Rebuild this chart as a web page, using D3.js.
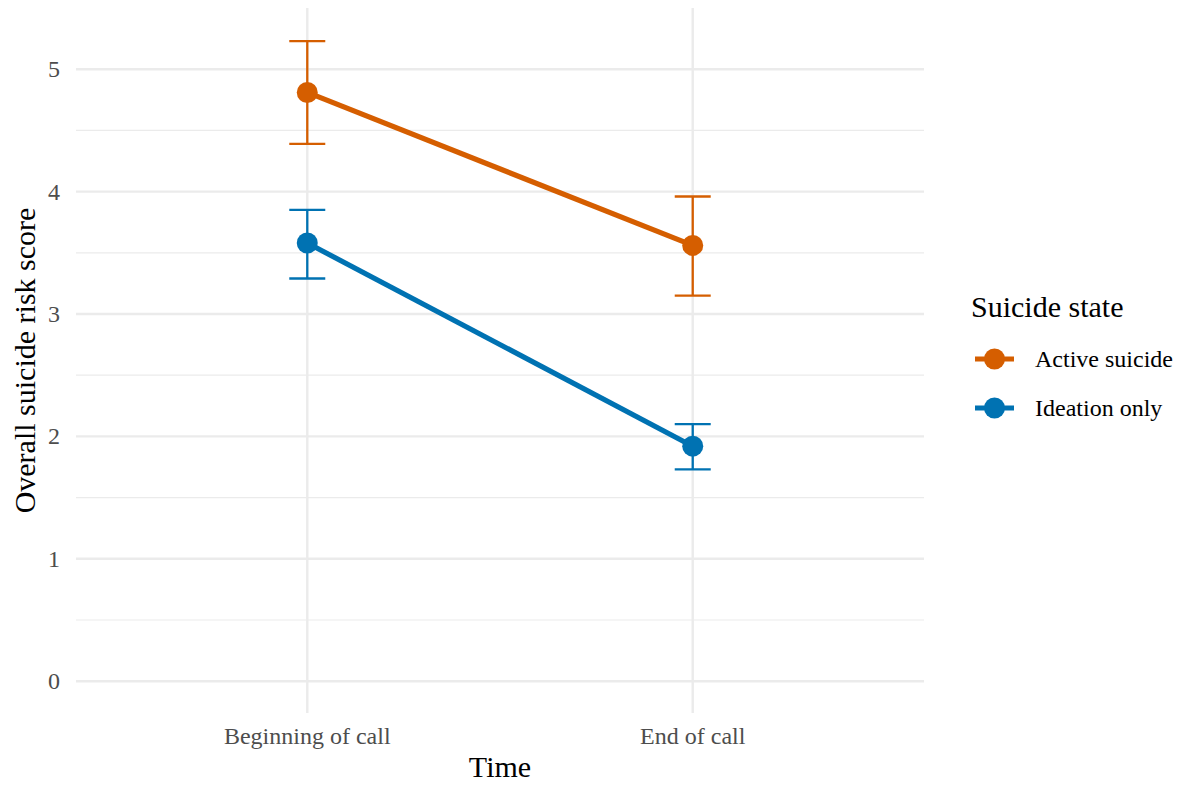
<!DOCTYPE html>
<html>
<head>
<meta charset="utf-8">
<script src="https://cdn.jsdelivr.net/npm/d3@7"></script>
<style>
  body { margin: 0; background: #fff; }
  text { font-family: "Liberation Serif", "Times New Roman", serif; }
</style>
</head>
<body>
<div id="chart"></div>
<script>
const times = ['Beginning of call', 'End of call']
const groups = ['Active suicide', 'Ideation only']
const colors = ['#D55E00', '#0072B2']

// mean, lower and upper for each group at each time
const activeMean = [4.81, 3.56]
const activeLow = [4.39, 3.15]
const activeHigh = [5.23, 3.96]
const ideationMean = [3.58, 1.92]
const ideationLow = [3.29, 1.73]
const ideationHigh = [3.85, 2.10]

const yTicks = [0, 1, 2, 3, 4, 5]
const yMinor = [0.5, 1.5, 2.5, 3.5, 4.5]

const series = [
  { name: groups[0], color: colors[0], mean: activeMean, low: activeLow, high: activeHigh },
  { name: groups[1], color: colors[1], mean: ideationMean, low: ideationLow, high: ideationHigh }
]

const width = 1186
const height = 787
const panel = { left: 76, right: 924, top: 8, bottom: 713 }

const svg = d3.select('#chart')
  .append('svg')
    .attr('width', width)
    .attr('height', height)

// discrete x with ggplot-like 0.6 expansion on each side
const x = d3.scalePoint()
  .domain(times)
  .range([panel.left + (panel.right - panel.left) * 0.6 / 2.2,
          panel.right - (panel.right - panel.left) * 0.6 / 2.2])

const y = d3.scaleLinear()
  .domain([-0.26, 5.5])
  .range([panel.bottom, panel.top])

const grid = svg.append('g')

grid.selectAll('.minor')
  .data(yMinor)
  .enter().append('line')
    .attr('x1', panel.left).attr('x2', panel.right)
    .attr('y1', d => y(d)).attr('y2', d => y(d))
    .attr('stroke', '#EBEBEB').attr('stroke-width', 1.2)

grid.selectAll('.major')
  .data(yTicks)
  .enter().append('line')
    .attr('x1', panel.left).attr('x2', panel.right)
    .attr('y1', d => y(d)).attr('y2', d => y(d))
    .attr('stroke', '#EBEBEB').attr('stroke-width', 2.4)

grid.selectAll('.vmajor')
  .data(times)
  .enter().append('line')
    .attr('x1', d => x(d)).attr('x2', d => x(d))
    .attr('y1', panel.top).attr('y2', panel.bottom)
    .attr('stroke', '#EBEBEB').attr('stroke-width', 2.4)

// y tick labels
svg.append('g').selectAll('text')
  .data(yTicks)
  .enter().append('text')
    .attr('x', 60)
    .attr('y', d => y(d))
    .attr('dy', '0.33em')
    .attr('text-anchor', 'end')
    .attr('font-size', 24)
    .attr('fill', '#4D4D4D')
    .text(d => d)

// x tick labels
svg.append('g').selectAll('text')
  .data(times)
  .enter().append('text')
    .attr('x', d => x(d))
    .attr('y', 744)
    .attr('text-anchor', 'middle')
    .attr('font-size', 24)
    .attr('fill', '#4D4D4D')
    .text(d => d)

// axis titles
svg.append('text')
  .attr('x', (panel.left + panel.right) / 2)
  .attr('y', 777)
  .attr('text-anchor', 'middle')
  .attr('font-size', 30)
  .text('Time')

svg.append('text')
  .attr('transform', 'translate(35,' + (panel.top + panel.bottom) / 2 + ') rotate(-90)')
  .attr('text-anchor', 'middle')
  .attr('font-size', 30)
  .text('Overall suicide risk score')

const line = d3.line()
  .x((d, i) => x(times[i]))
  .y(d => y(d))

const capHalf = 18

series.forEach(s => {
  const g = svg.append('g')

  // error bars
  times.forEach((t, i) => {
    g.append('line')
      .attr('x1', x(t)).attr('x2', x(t))
      .attr('y1', y(s.low[i])).attr('y2', y(s.high[i]))
      .attr('stroke', s.color).attr('stroke-width', 2.3)
    ;[s.low[i], s.high[i]].forEach(v => {
      g.append('line')
        .attr('x1', x(t) - capHalf).attr('x2', x(t) + capHalf)
        .attr('y1', y(v)).attr('y2', y(v))
        .attr('stroke', s.color).attr('stroke-width', 2.3)
    })
  })

  g.append('path')
    .datum(s.mean)
    .attr('d', line)
    .attr('fill', 'none')
    .attr('stroke', s.color)
    .attr('stroke-width', 5.2)

  g.selectAll('circle')
    .data(s.mean)
    .enter().append('circle')
      .attr('cx', (d, i) => x(times[i]))
      .attr('cy', d => y(d))
      .attr('r', 10.5)
      .attr('fill', s.color)
})

// legend
const legend = svg.append('g')

legend.append('text')
  .attr('x', 971)
  .attr('y', 317)
  .attr('font-size', 30)
  .text('Suicide state')

series.forEach((s, i) => {
  const cy = 359 + i * 49
  legend.append('line')
    .attr('x1', 975).attr('x2', 1014)
    .attr('y1', cy).attr('y2', cy)
    .attr('stroke', s.color).attr('stroke-width', 5.2)
  legend.append('circle')
    .attr('cx', 994.5).attr('cy', cy)
    .attr('r', 10.5)
    .attr('fill', s.color)
  legend.append('text')
    .attr('x', 1035)
    .attr('y', cy)
    .attr('dy', '0.33em')
    .attr('font-size', 24)
    .text(s.name)
})
</script>
</body>
</html>
